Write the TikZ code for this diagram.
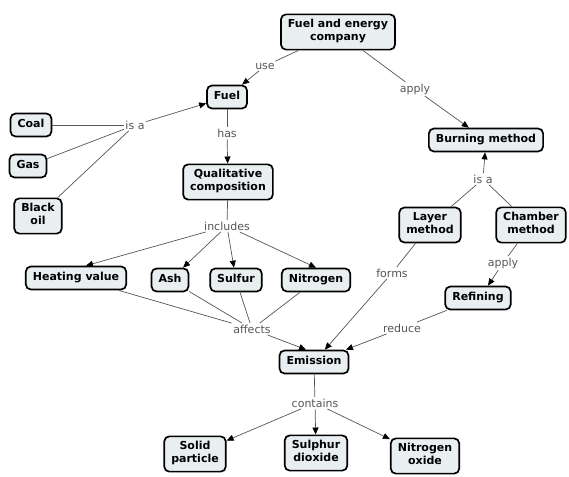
\documentclass[tikz,border=0pt]{standalone}
\usepackage{fontspec}
\setmainfont{DejaVu Sans}
\usetikzlibrary{arrows.meta}

\definecolor{conceptfill}{HTML}{E9EEF1}
\definecolor{linkgray}{HTML}{555555}

\begin{document}
\begin{tikzpicture}[x=1pt,y=-1pt,
    concept/.style={rectangle, draw, rounded corners=5pt, line width=1.7pt, fill=conceptfill,
      font=\bfseries\fontsize{11}{13}\selectfont, align=center, inner xsep=7pt, inner ysep=5pt,
      execute at begin node=\strut},
    linkword/.style={font=\fontsize{11}{13}\selectfont, text=linkgray, inner sep=1.5pt},
    conn/.style={draw=linkgray, line width=0.7pt},
    arr/.style={conn, -{Triangle[length=7pt,width=6pt,color=black]}}]
      \useasboundingbox (0,0) rectangle (569,476);

      % concepts
      \node at (338,32)  [concept] (company)   {Fuel and energy\\company};
      \node at (227,97)  [concept] (fuel)      {Fuel};
      \node at (31,125)  [concept] (coal)      {Coal};
      \node at (28,166)  [concept] (gas)       {Gas};
      \node at (38,216)  [concept] (blackoil)  {Black\\oil};
      \node at (228,182) [concept] (qualcomp)  {Qualitative\\composition};
      \node at (486,140) [concept] (burning)   {Burning method};
      \node at (430,225) [concept] (layer)     {Layer\\method};
      \node at (531,225) [concept] (chamber)   {Chamber\\method};
      \node at (76,278)  [concept] (heating)   {Heating value};
      \node at (170,280) [concept] (ash)       {Ash};
      \node at (236,280) [concept] (sulfur)    {Sulfur};
      \node at (316,280) [concept] (nitrogen)  {Nitrogen};
      \node at (478,298) [concept] (refining)  {Refining};
      \node at (314,362) [concept] (emission)  {Emission};
      \node at (195,454) [concept] (solid)     {Solid\\particle};
      \node at (316,453) [concept] (sulphur)   {Sulphur\\dioxide};
      \node at (425,456) [concept] (nitroxide) {Nitrogen\\oxide};

      % linking words
      \node at (265,66)  [linkword] (use)      {use};
      \node at (415,89)  [linkword] (apply1)   {apply};
      \node at (135,125) [linkword] (isa1)     {is a};
      \node at (227,133) [linkword] (has)      {has};
      \node at (483,179) [linkword] (isa2)     {is a};
      \node at (227,226) [linkword] (includes) {includes};
      \node at (252,329) [linkword] (affects)  {affects};
      \node at (392,273) [linkword] (forms)    {forms};
      \node at (503,263) [linkword] (apply2)   {apply};
      \node at (402,328) [linkword] (reduce)   {reduce};
      \node at (315,403) [linkword] (contains) {contains};

      % connections
      \draw[conn] (company)--(use);
      \draw[arr]  (use)--(fuel);
      \draw[conn] (company)--(apply1);
      \draw[arr]  (apply1)--(burning);

      \draw[conn] (coal)--(isa1);
      \draw[conn] (gas)--(isa1);
      \draw[conn] (blackoil)--(isa1);
      \draw[arr]  (isa1)--(fuel);

      \draw[conn] (fuel)--(has);
      \draw[arr]  (has)--(qualcomp);

      \draw[conn] (qualcomp)--(includes);
      \draw[arr]  (includes)--([xshift=10pt]heating.north);
      \draw[arr]  (includes)--(ash);
      \draw[arr]  (includes)--(sulfur);
      \draw[arr]  (includes)--(nitrogen.north);

      \draw[conn] (heating)--(affects);
      \draw[conn] (ash)--(affects);
      \draw[conn] (sulfur)--(affects);
      \draw[conn] (nitrogen)--(affects);
      \draw[arr]  (affects)--([xshift=-8pt]emission.north);

      \draw[conn] (layer)--(isa2);
      \draw[conn] (chamber)--(isa2);
      \draw[arr]  (isa2)--(burning);

      \draw[conn] (layer)--(forms);
      \draw[arr]  (forms)--(emission);

      \draw[conn] (chamber)--(apply2);
      \draw[arr]  (apply2)--([xshift=10pt]refining.north);

      \draw[conn] (refining)--(reduce);
      \draw[arr]  (reduce)--(emission);

      \draw[conn] (emission)--(contains);
      \draw[arr]  (contains)--(solid);
      \draw[arr]  (contains)--(sulphur);
      \draw[arr]  (contains)--(nitroxide);
\end{tikzpicture}
\end{document}
